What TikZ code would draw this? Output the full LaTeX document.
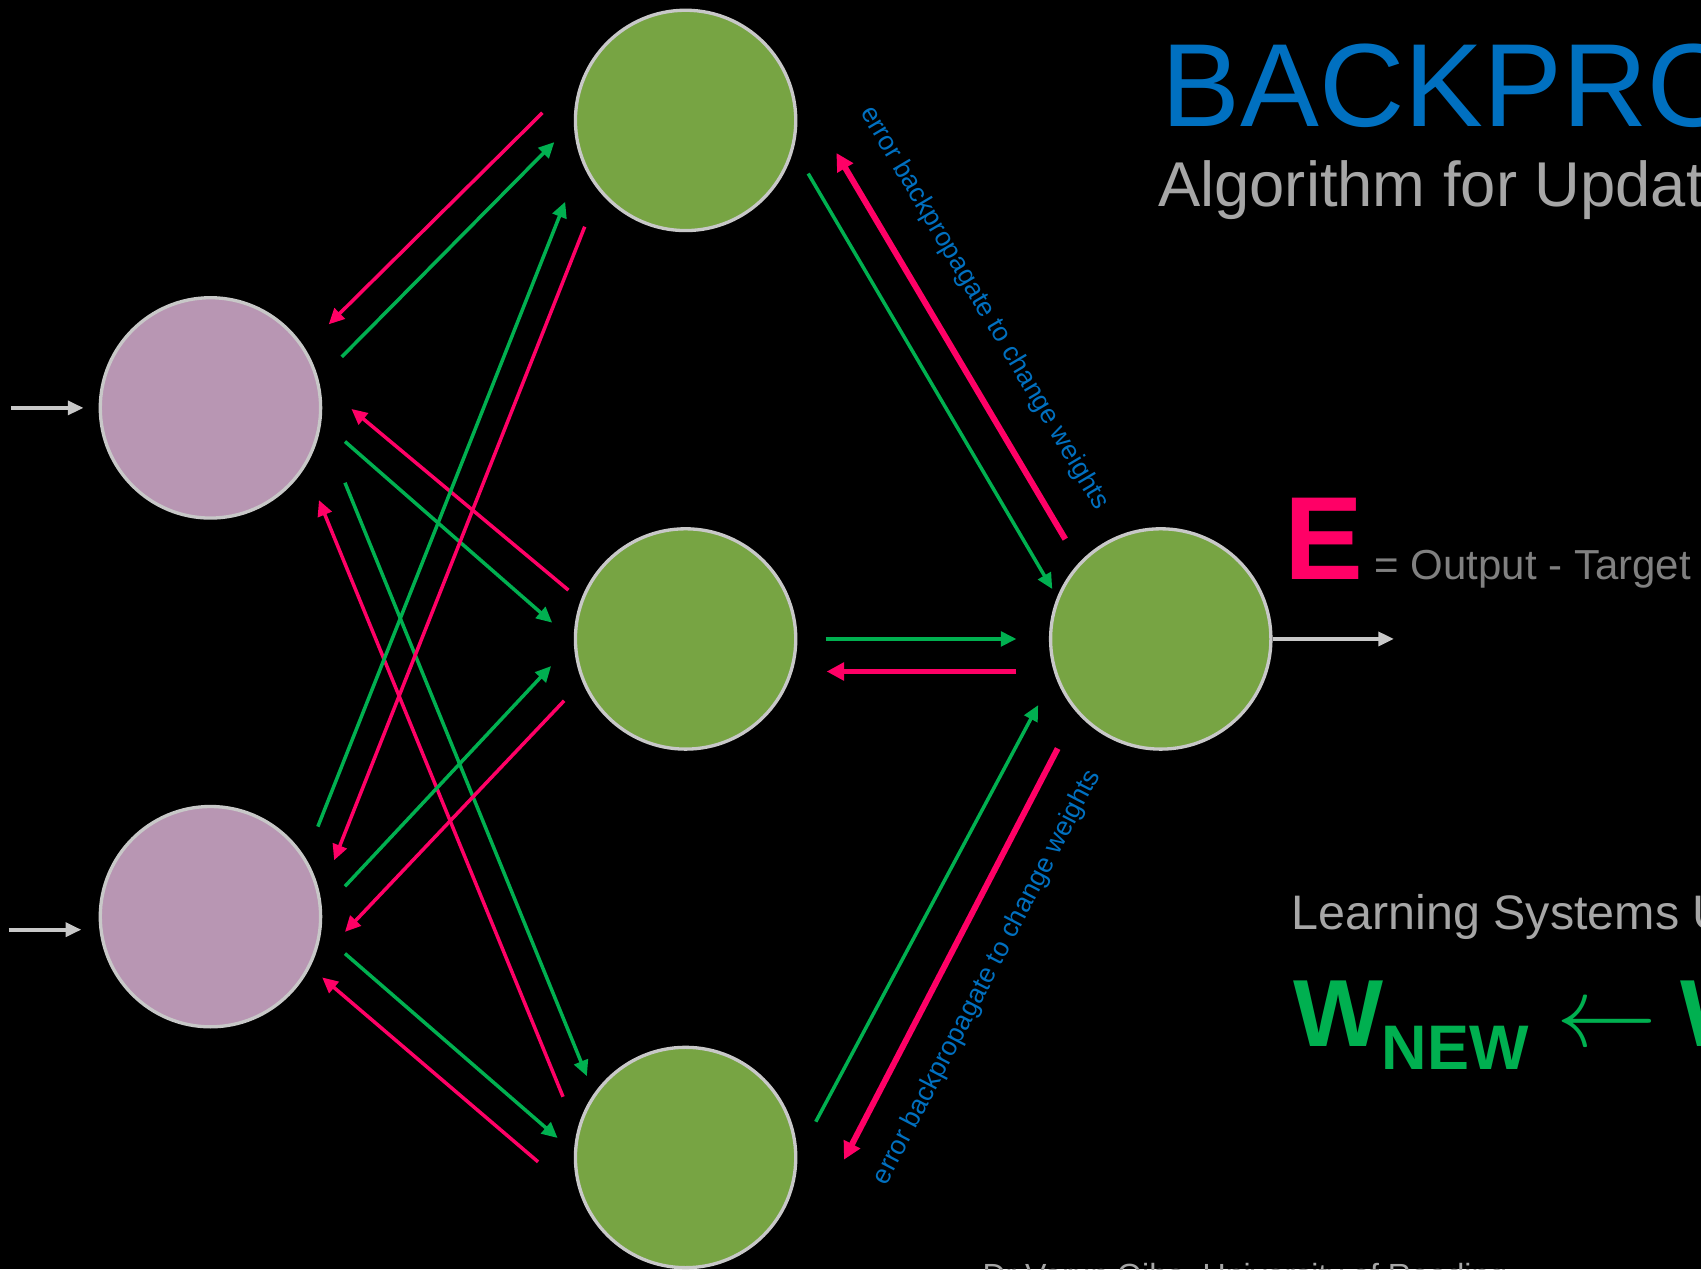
\RequirePackage{fix-cm}
\documentclass[tikz,border=0pt]{standalone}
\usepackage{fontspec}
\setmainfont{Liberation Sans}
\usetikzlibrary{arrows.meta}
\definecolor{ngreen}{HTML}{77A443}
\definecolor{npink}{HTML}{B896B3}
\definecolor{nborder}{HTML}{C8C8C8}
\definecolor{agreen}{HTML}{00B050}
\definecolor{apink}{HTML}{FF0066}
\definecolor{tblue}{HTML}{0070C0}
\definecolor{tgray}{HTML}{A6A6A6}
\definecolor{dgray}{HTML}{808080}
\begin{document}
\begin{tikzpicture}[x=0.01cm,y=-0.01cm,
  neuron/.style={circle, minimum size=2.03cm, inner sep=0pt, draw=nborder, line width=0.87pt},
  inneuron/.style={neuron, fill=npink},
  hidneuron/.style={neuron, fill=ngreen},
  fwd/.style={draw=agreen, line width=0.92pt, -{Triangle[length=4.1pt,width=3.8pt]}},
  bwd/.style={draw=apink, line width=0.92pt, -{Triangle[length=4.1pt,width=3.8pt]}},
  fwdmid/.style={fwd, line width=1.1pt},
  bwdthick/.style={draw=apink, line width=1.57pt, -{Triangle[length=4.6pt,width=4.6pt]}},
  ioarrow/.style={draw=nborder, line width=1.05pt, -{Triangle[length=4.1pt,width=3.6pt]}},
  lbl/.style={inner sep=0pt, anchor=base west},
  errlbl/.style={text=tblue, font=\fontsize{7}{8}\selectfont, inner sep=0pt}
]
\path[use as bounding box, fill=black] (0,0) rectangle (1568,1170);
\clip (0,0) rectangle (1568,1170);

% neurons
\node[inneuron] (i1) at (194,376) {};
\node[inneuron] (i2) at (194,845) {};
\node[hidneuron] (h1) at (632,111) {};
\node[hidneuron] (h2) at (632,589) {};
\node[hidneuron] (h3) at (632,1067) {};
\node[hidneuron] (o) at (1070,589) {};

% input / output arrows
\coordinate (in1s) at (10,376);
\coordinate (in1e) at (77,376);
\coordinate (in2s) at (8,857);
\coordinate (in2e) at (75,857);
\coordinate (out) at (1285,589);
\draw[ioarrow] (in1s) -- (in1e);
\draw[ioarrow] (in2s) -- (in2e);
\draw[ioarrow] (o.east) -- (out);

% input layer <-> hidden layer
\coordinate (a1s) at (500,104);  \coordinate (a1e) at (303,299);
\coordinate (a2s) at (315,329);  \coordinate (a2e) at (511,131);
\coordinate (a3s) at (524,544);  \coordinate (a3e) at (324,377);
\coordinate (a4s) at (318,407);  \coordinate (a4e) at (509,574);
\coordinate (a5s) at (318,445);  \coordinate (a5e) at (541,992);
\coordinate (a6s) at (519,1011); \coordinate (a6e) at (294,461);
\coordinate (a7s) at (293,762);  \coordinate (a7e) at (521,186);
\coordinate (a8s) at (539,209);  \coordinate (a8e) at (308,793);
\coordinate (a9s) at (318,817);  \coordinate (a9e) at (508,614);
\coordinate (a10s) at (520,646); \coordinate (a10e) at (318,859);
\coordinate (a11s) at (318,879); \coordinate (a11e) at (514,1049);
\coordinate (a12s) at (496,1071);\coordinate (a12e) at (297,901);
\draw[bwd] (a1s) -- (a1e);
\draw[fwd] (a2s) -- (a2e);
\draw[bwd] (a3s) -- (a3e);
\draw[fwd] (a4s) -- (a4e);
\draw[fwd] (a5s) -- (a5e);
\draw[bwd] (a6s) -- (a6e);
\draw[fwd] (a7s) -- (a7e);
\draw[bwd] (a8s) -- (a8e);
\draw[fwd] (a9s) -- (a9e);
\draw[bwd] (a10s) -- (a10e);
\draw[fwd] (a11s) -- (a11e);
\draw[bwd] (a12s) -- (a12e);

% hidden layer <-> output
\coordinate (b1s) at (745,160);  \coordinate (b1e) at (970,543);
\coordinate (b2s) at (982,497);  \coordinate (b2e) at (771,141);
\coordinate (b3s) at (761,589);  \coordinate (b3e) at (937,589);
\coordinate (b4s) at (937,619);  \coordinate (b4e) at (762,619);
\coordinate (b5s) at (752,1034); \coordinate (b5e) at (957,650);
\coordinate (b6s) at (975,690);  \coordinate (b6e) at (778,1069);
\draw[fwd] (b1s) -- (b1e);
\draw[bwdthick] (b2s) -- (b2e);
\draw[fwdmid] (b3s) -- (b3e);
\draw[bwdthick] (b4s) -- (b4e);
\draw[fwd] (b5s) -- (b5e);
\draw[bwdthick] (b6s) -- (b6e);

\node[errlbl, rotate=-59.4] (err1) at (907,284) {error backpropagate to change weights};
\node[errlbl, rotate=62.5] (err2) at (910,901) {error backpropagate to change weights};

% texts
\node[lbl, text=tblue, font=\fontsize{31}{31}\selectfont] (title) at (1070,117) {BACKPRO};
\node[lbl, text=tgray, font=\fontsize{16.6}{17}\selectfont] (sub) at (1067,190) {Algorithm for Updat};
\node[lbl] (E) at (1183,534) {{\fontsize{31}{31}\selectfont\bfseries\color{apink}E}{\fontsize{11}{11}\selectfont\color{dgray}\ = Output - Target}};
\node[lbl, text=tgray, font=\fontsize{12.7}{13}\selectfont] (learn) at (1190,857) {Learning Systems U};
\node[lbl, text=agreen, font=\fontsize{25}{25}\selectfont\bfseries] (wnew) at (1192,965) {W};
\node[lbl, text=agreen, font=\fontsize{16.5}{16.5}\selectfont\bfseries] (new) at (1273,986) {NEW};
\node[lbl, text=agreen, font=\fontsize{26.4}{26.4}\selectfont] (larr) at (1434,965) {$\leftarrow$};
\node[lbl, text=agreen, font=\fontsize{25}{25}\selectfont\bfseries] (wold) at (1548,965) {W};
\node[lbl, text=tgray, font=\fontsize{8.4}{9}\selectfont] (foot) at (905,1186) {Dr Varun Ojha, University of Reading};
\end{tikzpicture}
\end{document}
